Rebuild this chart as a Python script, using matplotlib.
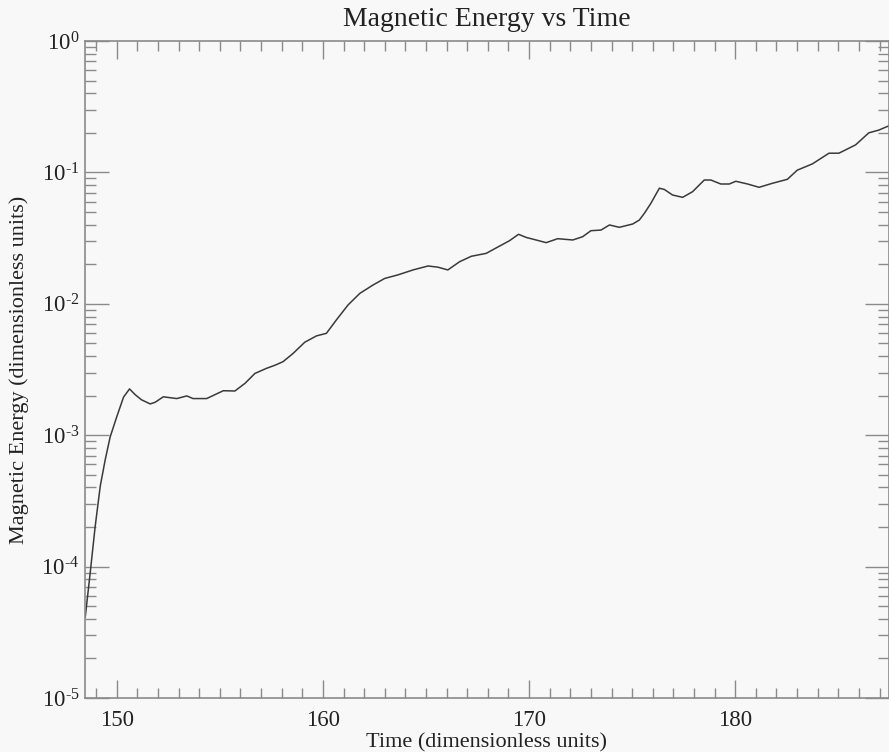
import math
import matplotlib
matplotlib.use("Agg")
import matplotlib.pyplot as plt
from matplotlib.ticker import LogLocator, FixedLocator, FuncFormatter, MultipleLocator

time = [148.47, 148.71, 148.95, 149.20, 149.44, 149.68, 150.00, 150.33, 150.62, 150.90,
        151.20, 151.62, 151.86, 152.26, 152.91, 153.40, 153.70, 154.36, 155.17, 155.73,
        156.22, 156.70, 157.27, 157.70, 158.07, 158.56, 159.12, 159.69, 160.17, 160.66,
        161.22, 161.79, 162.43, 163.00, 163.64, 164.37, 165.10, 165.58, 166.06, 166.63,
        167.20, 167.92, 168.57, 169.05, 169.49, 169.86, 170.34, 170.83, 171.39, 172.12,
        172.60, 173.00, 173.49, 173.90, 174.38, 175.03, 175.35, 175.60, 175.91, 176.32,
        176.56, 176.96, 177.45, 177.93, 178.50, 178.82, 179.30, 179.71, 180.03, 180.60,
        181.16, 181.80, 182.53, 183.01, 183.74, 184.55, 185.03, 185.84, 186.48, 186.97,
        187.42]
energy = [4.1e-5, 8.9e-5, 2.0e-4, 4.1e-4, 6.5e-4, 9.7e-4, 1.38e-3, 1.95e-3, 2.25e-3, 2.03e-3,
          1.86e-3, 1.73e-3, 1.78e-3, 1.96e-3, 1.90e-3, 1.99e-3, 1.90e-3, 1.90e-3, 2.18e-3, 2.17e-3,
          2.48e-3, 2.95e-3, 3.23e-3, 3.42e-3, 3.63e-3, 4.2e-3, 5.1e-3, 5.7e-3, 5.96e-3, 7.56e-3,
          9.8e-3, 1.2e-2, 1.39e-2, 1.56e-2, 1.66e-2, 1.81e-2, 1.94e-2, 1.90e-2, 1.81e-2, 2.09e-2,
          2.30e-2, 2.42e-2, 2.75e-2, 3.02e-2, 3.38e-2, 3.20e-2, 3.06e-2, 2.92e-2, 3.13e-2, 3.06e-2,
          3.24e-2, 3.60e-2, 3.64e-2, 3.98e-2, 3.82e-2, 4.05e-2, 4.34e-2, 4.9e-2, 5.82e-2, 7.58e-2,
          7.42e-2, 6.73e-2, 6.46e-2, 7.13e-2, 8.75e-2, 8.75e-2, 8.16e-2, 8.16e-2, 8.56e-2, 8.16e-2,
          7.7e-2, 8.26e-2, 8.86e-2, 1.04e-1, 1.16e-1, 1.40e-1, 1.40e-1, 1.62e-1, 2.0e-1, 2.1e-1,
          2.25e-1]

x_ticks = [150, 160, 170, 180]
y_exponents = [-5, -4, -3, -2, -1, 0]

title_text = "Magnetic Energy vs Time"
x_label = "Time (dimensionless units)"
y_label = "Magnetic Energy (dimensionless units)"

plt.rcParams['font.family'] = ['Liberation Serif', 'DejaVu Serif']
plt.rcParams['mathtext.fontset'] = 'custom'
plt.rcParams['mathtext.rm'] = 'Liberation Serif'
plt.rcParams['mathtext.it'] = 'Liberation Serif:italic'
plt.rcParams['mathtext.bf'] = 'Liberation Serif:bold'


def fmt(v, p):
    e = int(round(math.log10(v)))
    if e < 0:
        return r"$10^{\mathrm{\text{-}%d}}$" % (-e)
    return r"$10^{%d}$" % e


bg = '#f8f8f8'
spine_c = '#8a8a8a'
txt_c = '#222222'
fig = plt.figure(figsize=(8.89, 7.52), dpi=100, facecolor=bg)
ax = fig.add_axes([85/889, 1 - 698/752, (889 - 85)/889, (698 - 41)/752])
ax.set_facecolor(bg)

ax.plot(time, energy, color='#3a3a3a', lw=1.1)
ax.set_yscale('log')
ax.set_xlim(148.46, 187.46)
ax.set_ylim(1e-5, 1.0)

ax.xaxis.set_major_locator(FixedLocator(x_ticks))
ax.xaxis.set_minor_locator(MultipleLocator(1))
ax.yaxis.set_major_locator(FixedLocator([10.0**e for e in y_exponents]))
ax.yaxis.set_minor_locator(LogLocator(base=10, subs=range(2, 10), numticks=20))
ax.yaxis.set_major_formatter(FuncFormatter(fmt))

for s in ax.spines.values():
    s.set_color(spine_c)
    s.set_linewidth(1.2)

ax.tick_params(axis='x', which='major', direction='in', length=13, width=1, color=spine_c,
               top=True, bottom=True, labelsize=16.5, pad=9, labelcolor=txt_c)
ax.tick_params(axis='x', which='minor', direction='in', length=7, width=1, color=spine_c,
               top=True, bottom=True)
ax.tick_params(axis='y', which='major', direction='in', length=17, width=1, color=spine_c,
               left=True, right=True, labelsize=16.5, pad=4, labelcolor=txt_c)
ax.tick_params(axis='y', which='minor', direction='in', length=8, width=1, color=spine_c,
               left=True, right=True)

fig.text(487/889, 1 - 20/752, title_text, fontsize=20, color=txt_c, ha='center', va='center')
ax.set_xlabel(x_label, fontsize=16, color=txt_c, labelpad=1)
ax.set_ylabel(y_label, fontsize=16, color=txt_c, labelpad=9)

fig.savefig("out.png", dpi=100, facecolor=bg)
